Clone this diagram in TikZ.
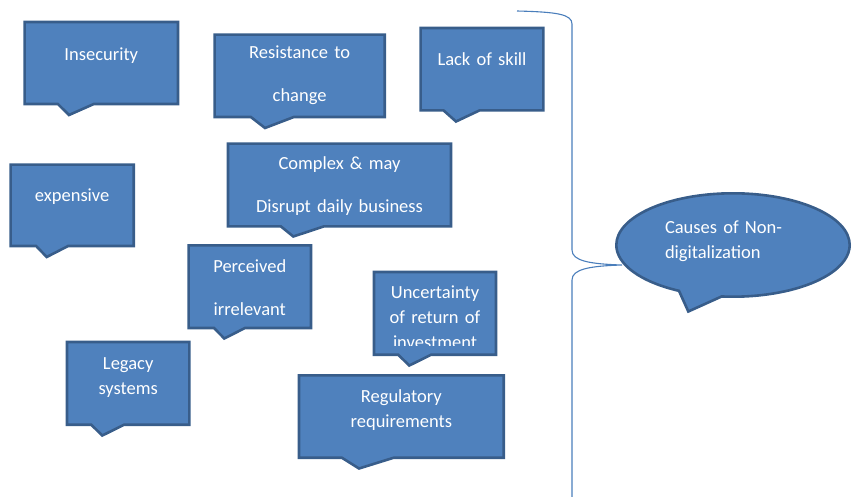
\documentclass[tikz,border=0pt]{standalone}
\usepackage{fontspec}
\setmainfont{Carlito}
\usepackage{tikz}
\usetikzlibrary{shapes.callouts}
\usepackage{xcolor}

\definecolor{boxfill}{HTML}{4F81BD}
\definecolor{boxline}{HTML}{385D8A}
\definecolor{braceline}{HTML}{4A7EBB}

\begin{document}
\begin{tikzpicture}[x=1pt,y=-1pt]
    \tikzstyle{cause}=[rectangle callout,draw=boxline,fill=boxfill,line width=2.6pt,
        inner sep=0pt,align=center,text=white,anchor=text,
        font=\fontsize{18.5}{25}\selectfont,callout pointer width=36pt]
    \tikzstyle{wide}=[font=\fontsize{18.5}{43}\selectfont]
    \useasboundingbox (0,0) rectangle (853,497);

    % brace, the tip goes in under the ellipse
    \coordinate (bt) at (517,11);
    \coordinate (tip) at (622,265);
    \coordinate (bb) at (572,497);
    \draw[braceline,line width=1.1pt] (bt) .. controls (556,12) and (572,14) .. (572,24)
        -- (572,250) .. controls (572,261) and (590,264) .. (tip)
        .. controls (590,266) and (572,269) .. (572,280) -- (bb);

    \node[cause,text width=153.4pt,text height=39pt,text depth=43pt,
        callout absolute pointer={(69,115)}] (ins) at (24.6,61) {Insecurity};
    \node[cause,wide,text width=170.1pt,text height=24.4pt,text depth=58pt,
        callout pointer width=43pt,callout absolute pointer={(265,128)}] (res) at (214.6,59) {Resistance to\\change};
    \node[cause,text width=122.8pt,text height=38pt,text depth=44.4pt,
        callout absolute pointer={(456,121.5)}] (lack) at (420.6,66) {Lack of skill};
    \node[cause,wide,text width=223pt,text height=25.7pt,text depth=57.1pt,
        callout pointer width=43pt,callout absolute pointer={(293.3,236.5)}] (cpx) at (228,169.3) {Complex \& may\\Disrupt daily business};
    \node[cause,text width=123.1pt,text height=36.9pt,text depth=44.5pt,
        callout pointer width=32pt,callout absolute pointer={(46.7,257)}] (exp) at (10.6,201.5) {expensive};
    \node[cause,wide,text width=122.4pt,text height=27.4pt,text depth=55.3pt,
        callout pointer width=31pt,callout absolute pointer={(224.3,338.5)}] (perc) at (188.6,272.7) {Perceived\\irrelevant};
    \node[cause,text width=122pt,text height=26.5pt,text depth=56.2pt,
        callout pointer width=33pt,callout absolute pointer={(409.3,365.5)}] (unc) at (374,298.5) {Uncertainty\\of return of};
    \node[cause,text width=122.4pt,text height=27.3pt,text depth=55.4pt,
        callout pointer width=33pt,callout absolute pointer={(102.3,435.5)}] (leg) at (67,369.3) {Legacy\\systems};
    \node[cause,text width=204.7pt,text height=26.7pt,text depth=55.7pt,
        callout pointer width=52pt,callout absolute pointer={(359,468.5)}] (reg) at (299,402) {Regulatory\\requirements};

    % last line of the box runs out of room
    \begin{scope}
        \clip (unc.north west) rectangle ([yshift=10.2pt]unc.south east);
        \node[anchor=base,text=white,font=\fontsize{18.5}{25}\selectfont] (inv) at (435,348.8) {investment};
    \end{scope}

    \node[ellipse callout,draw=boxline,fill=boxfill,line width=2.6pt,text=white,
        minimum width=233.4pt,minimum height=103.4pt,inner sep=0pt,
        text width=136pt,align=left,text height=13pt,text depth=37pt,anchor=text,
        font=\fontsize{18.5}{25}\selectfont,callout pointer arc=22,
        callout absolute pointer={(688.3,311.5)}] (cause) at (665,233) {Causes of Non-\\digitalization};
\end{tikzpicture}
\end{document}
